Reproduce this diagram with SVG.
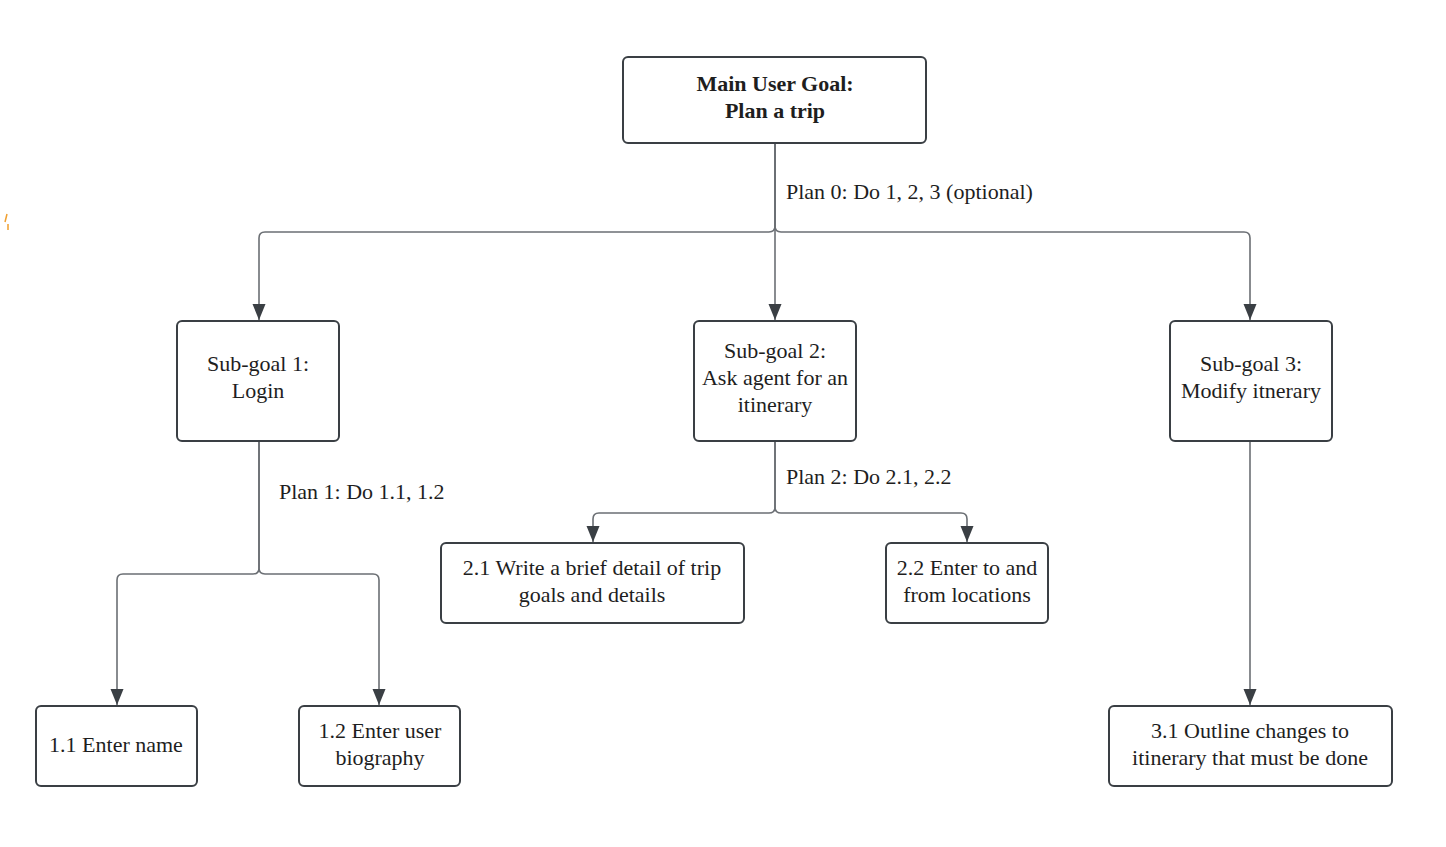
<svg xmlns="http://www.w3.org/2000/svg" width="1446" height="847" viewBox="0 0 1446 847">
<style>
.box{fill:#fff;stroke:#3a3f44;stroke-width:2}
.t{font-family:"Liberation Serif","Times New Roman",serif;font-size:22px;fill:#1e1e1e;text-anchor:middle}
.b{font-weight:bold}
.lbl{font-family:"Liberation Serif","Times New Roman",serif;font-size:22px;fill:#1e1e1e}
.c{fill:none;stroke:#6b6f74;stroke-width:1.6;marker-end:url(#ah)}
</style>
<defs>
<marker id="ah" markerUnits="userSpaceOnUse" markerWidth="17" markerHeight="14" refX="16" refY="6.5" orient="auto">
<path d="M0 0 L16 6.5 L0 13 z" fill="#3a3f44"/>
</marker>
</defs>
<path d="M7 214 L5 222 M8 224 L8 230" stroke="#f0a030" stroke-width="1.5" fill="none"/>
<g id="connectors">
<path class="c" d="M775 143 V226 Q775 232 769 232 H265 Q259 232 259 238 V320"/>
<path class="c" d="M775 143 V320"/>
<path class="c" d="M775 143 V226 Q775 232 781 232 H1244 Q1250 232 1250 238 V320"/>
<path class="c" d="M259 441 V568 Q259 574 253 574 H123 Q117 574 117 580 V705"/>
<path class="c" d="M259 441 V568 Q259 574 265 574 H373 Q379 574 379 580 V705"/>
<path class="c" d="M775 441 V507 Q775 513 769 513 H599 Q593 513 593 519 V542"/>
<path class="c" d="M775 441 V507 Q775 513 781 513 H961 Q967 513 967 519 V542"/>
<path class="c" d="M1250 441 V705"/>
<text class="lbl" x="786" y="199">Plan 0: Do 1, 2, 3 (optional)</text>
<text class="lbl" x="279" y="499">Plan 1: Do 1.1, 1.2</text>
<text class="lbl" x="786" y="484">Plan 2: Do 2.1, 2.2</text>
</g>
<g id="main">
<rect class="box" x="623" y="57" width="303" height="86" rx="5"/>
<text class="t b" x="775" y="91">Main User Goal:</text>
<text class="t b" x="775" y="118">Plan a trip</text>
</g>
<g id="sub1">
<rect class="box" x="177" y="321" width="162" height="120" rx="5"/>
<text class="t" x="258" y="371">Sub-goal 1:</text>
<text class="t" x="258" y="398">Login</text>
</g>
<g id="sub2">
<rect class="box" x="694" y="321" width="162" height="120" rx="5"/>
<text class="t" x="775" y="358">Sub-goal 2:</text>
<text class="t" x="775" y="385">Ask agent for an</text>
<text class="t" x="775" y="412">itinerary</text>
</g>
<g id="sub3">
<rect class="box" x="1170" y="321" width="162" height="120" rx="5"/>
<text class="t" x="1251" y="371">Sub-goal 3:</text>
<text class="t" x="1251" y="398">Modify itnerary</text>
</g>
<g id="n21">
<rect class="box" x="441" y="543" width="303" height="80" rx="5"/>
<text class="t" x="592" y="575">2.1 Write a brief detail of trip</text>
<text class="t" x="592" y="602">goals and details</text>
</g>
<g id="n22">
<rect class="box" x="886" y="543" width="162" height="80" rx="5"/>
<text class="t" x="967" y="575">2.2 Enter to and</text>
<text class="t" x="967" y="602">from locations</text>
</g>
<g id="n11">
<rect class="box" x="36" y="706" width="161" height="80" rx="5"/>
<text class="t" x="116" y="752">1.1 Enter name</text>
</g>
<g id="n12">
<rect class="box" x="299" y="706" width="161" height="80" rx="5"/>
<text class="t" x="380" y="738">1.2 Enter user</text>
<text class="t" x="380" y="765">biography</text>
</g>
<g id="n31">
<rect class="box" x="1109" y="706" width="283" height="80" rx="5"/>
<text class="t" x="1250" y="738">3.1 Outline changes to</text>
<text class="t" x="1250" y="765">itinerary that must be done</text>
</g>
</svg>
